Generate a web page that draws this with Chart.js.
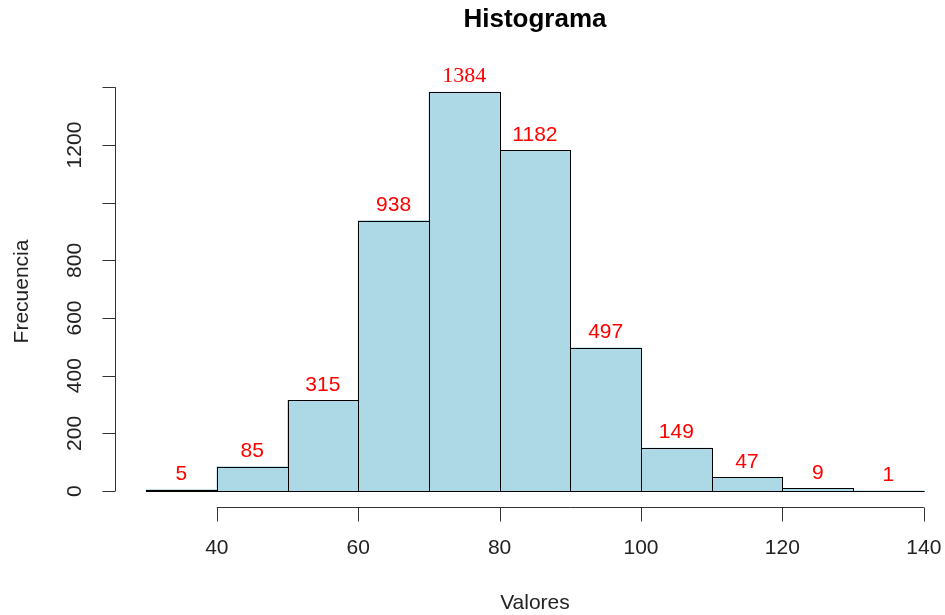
<!DOCTYPE html>
<html lang="es">
  <head>
    <meta charset="UTF-8" />
    <title>Histograma</title>
    <script src="https://cdn.jsdelivr.net/npm/chart.js"></script>
    <style>
      html, body { margin: 0; padding: 0; background: #fff; }
      #wrap { width: 945px; height: 615px; }
    </style>
  </head>
  <body>
    <div id="wrap"><canvas id="hist" width="945" height="615"></canvas></div>
    <script>
      // histogram data
      const breaks = [30, 40, 50, 60, 70, 80, 90, 100, 110, 120, 130, 140];
      const counts = [5, 85, 315, 938, 1384, 1182, 497, 149, 47, 9, 1];
      const xTicks = [40, 60, 80, 100, 120, 140];
      const yTicks = [0, 200, 400, 600, 800, 1000, 1200, 1400];
      const yTickLabels = ["0", "200", "400", "600", "800", "", "1200", ""];

      const SANS = "'Liberation Sans', Arial, sans-serif";
      const SERIF = "'Liberation Serif', 'Times New Roman', serif";

      const mids = counts.map((c, i) => (breaks[i] + breaks[i + 1]) / 2);
      const maxCount = Math.max(...counts);
      const yPad = maxCount * 0.04;
      const xPad = (breaks[breaks.length - 1] - breaks[0]) * 0.04;

      // R-style axes, outlines and labels
      const rStyle = {
        id: "rStyle",
        afterDatasetsDraw(chart) {
          const ctx = chart.ctx;
          const xs = chart.scales.x;
          const ys = chart.scales.y;
          const area = chart.chartArea;
          ctx.save();

          // bar outlines
          ctx.strokeStyle = "#000";
          ctx.lineWidth = 1;
          chart.getDatasetMeta(0).data.forEach((bar) => {
            const p = bar.getProps(["x", "y", "base", "width"], true);
            const l = Math.round(p.x - p.width / 2) + 0.5;
            const r = Math.round(p.x + p.width / 2) + 0.5;
            const t = Math.round(p.y) + 0.5;
            const b = Math.round(p.base) + 0.5;
            ctx.strokeRect(l, t, r - l, b - t);
          });

          // value labels
          ctx.fillStyle = "#FF0000";
          ctx.textAlign = "center";
          ctx.textBaseline = "bottom";
          counts.forEach((c, i) => {
            const fam = c === maxCount ? SERIF : SANS;
            ctx.font = (c === maxCount ? "22px " : "21px ") + fam;
            ctx.fillText(String(c), xs.getPixelForValue(mids[i]), ys.getPixelForValue(c) - 5);
          });

          // axes
          ctx.strokeStyle = "#333";
          ctx.fillStyle = "#222";
          ctx.font = "21px " + SANS;
          const yAxisX = Math.round(area.left) + 0.5;
          const xAxisY = Math.round(area.bottom) + 0.5;

          ctx.beginPath();
          ctx.moveTo(yAxisX, ys.getPixelForValue(yTicks[0]));
          ctx.lineTo(yAxisX, ys.getPixelForValue(yTicks[yTicks.length - 1]));
          yTicks.forEach((v) => {
            const py = Math.round(ys.getPixelForValue(v)) + 0.5;
            ctx.moveTo(yAxisX, py);
            ctx.lineTo(yAxisX - 13, py);
          });
          ctx.moveTo(xs.getPixelForValue(xTicks[0]), xAxisY);
          ctx.lineTo(xs.getPixelForValue(xTicks[xTicks.length - 1]), xAxisY);
          xTicks.forEach((v) => {
            const px = Math.round(xs.getPixelForValue(v)) + 0.5;
            ctx.moveTo(px, xAxisY);
            ctx.lineTo(px, xAxisY + 14);
          });
          ctx.stroke();

          ctx.textBaseline = "middle";
          xTicks.forEach((v) => {
            ctx.fillText(String(v), xs.getPixelForValue(v), xAxisY + 41);
          });
          yTicks.forEach((v, i) => {
            if (!yTickLabels[i]) return;
            ctx.save();
            ctx.translate(yAxisX - 40, ys.getPixelForValue(v));
            ctx.rotate(-Math.PI / 2);
            ctx.fillText(yTickLabels[i], 0, 0);
            ctx.restore();
          });

          // titles (centred on the full R plot region)
          const midX = (xs.getPixelForValue(breaks[0] - xPad) +
            xs.getPixelForValue(breaks[breaks.length - 1] + xPad)) / 2;
          ctx.fillText("Valores", midX, 603);
          ctx.save();
          ctx.translate(22, (area.top + area.bottom) / 2);
          ctx.rotate(-Math.PI / 2);
          ctx.fillText("Frecuencia", 0, 0);
          ctx.restore();
          ctx.fillStyle = "#000";
          ctx.font = "bold 26px " + SANS;
          ctx.fillText("Histograma", midX, 20);

          ctx.restore();
        },
      };

      new Chart(document.getElementById("hist"), {
        type: "bar",
        data: {
          datasets: [
            {
              data: mids.map((m, i) => ({ x: m, y: counts[i] })),
              backgroundColor: "#ADD8E6",
              borderWidth: 0,
              barPercentage: 1,
              categoryPercentage: 1,
            },
          ],
        },
        options: {
          responsive: false,
          animation: false,
          layout: { padding: { left: 115, right: 0, top: 76, bottom: 108 } },
          plugins: {
            legend: { display: false },
            tooltip: { enabled: false },
          },
          scales: {
            x: {
              type: "linear",
              display: false,
              offset: false,
              min: breaks[0] - xPad,
              max: 143,
              grid: { display: false },
            },
            y: {
              display: false,
              min: -yPad,
              max: maxCount + yPad,
              grid: { display: false },
            },
          },
        },
        plugins: [rStyle],
      });
    </script>
  </body>
</html>
